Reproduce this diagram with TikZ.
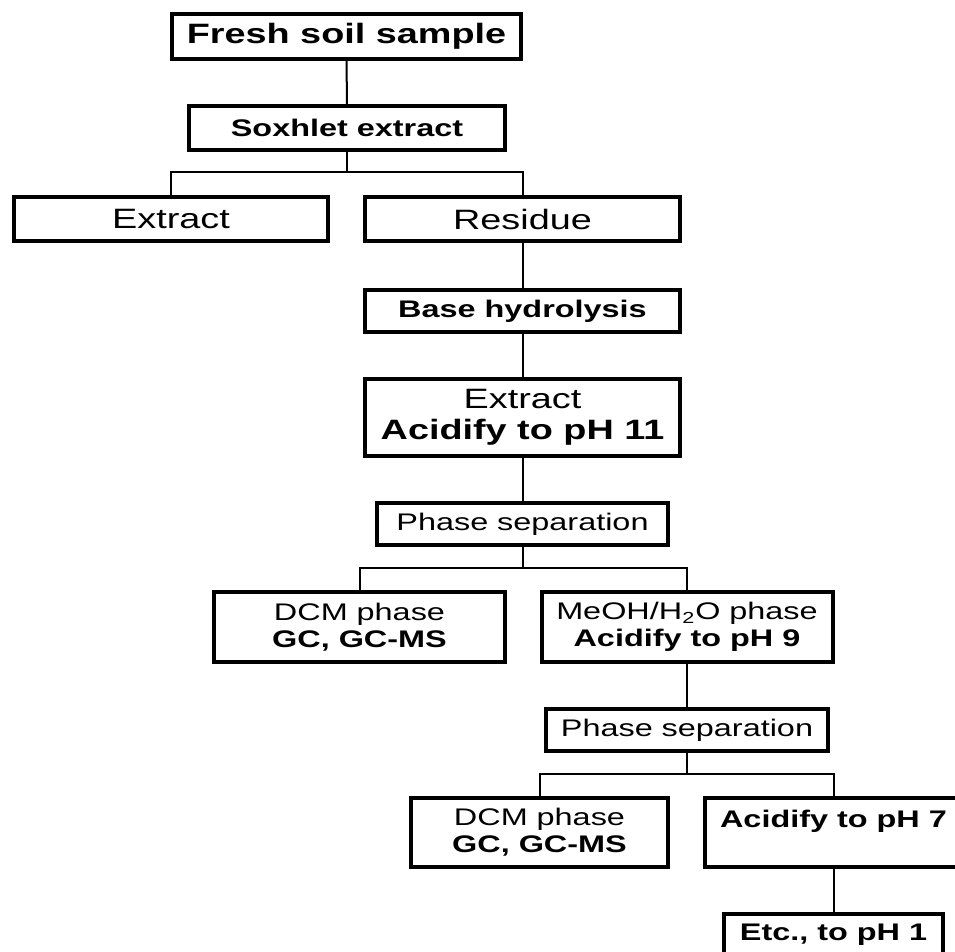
\documentclass[tikz,border=0pt]{standalone}
\usepackage{fontspec}
\setmainfont{Liberation Sans}[FakeStretch=1.35]
\usetikzlibrary{positioning,calc}

\begin{document}
\begin{tikzpicture}[x=0.5pt, y=-0.5pt]

        % Boxes and the thin lines that join them
        \tikzset{
            box/.style={draw, line width=2pt, align=center, inner sep=0pt,
                font=\fontsize{12}{13.5}\selectfont},
            bigbox/.style={box, font=\fontsize{14}{15.5}\selectfont},
            link/.style={line width=1pt},
        }

        % Picture frame, the last boxes run off the page
        \useasboundingbox (0, 0) rectangle (955, 952);
        \clip (0, 0) rectangle (955, 952);

        \node (fresh) at (346.5, 36.5) [bigbox, minimum width=174.5pt, minimum height=22.5pt]
            {\textbf{Fresh soil sample}};
        \node (soxhlet) at (347, 128) [box, minimum width=158pt, minimum height=22pt]
            {\textbf{Soxhlet extract}};
        \node (extract) at (171, 219) [bigbox, minimum width=157pt, minimum height=22pt]
            {Extract};
        \node (residue) at (522.5, 219) [bigbox, minimum width=157.5pt, minimum height=22pt]
            {Residue};
        \node (base) at (522.5, 311) [box, minimum width=157.5pt, minimum height=21pt]
            {\textbf{Base hydrolysis}};
        \node (acid11) at (522.5, 417.5) [bigbox, minimum width=157.5pt, minimum height=38.5pt]
            {Extract\\\textbf{Acidify to pH 11}};
        \node (phase1) at (522.5, 524) [box, minimum width=145.5pt, minimum height=21pt]
            {Phase separation};

        \node (dcm1) at (359.5, 627) [box, minimum width=145.5pt, minimum height=35pt]
            {DCM phase\\\textbf{GC, GC-MS}};
        \node (meoh) at (687, 627) [box, minimum width=145.5pt, minimum height=35pt]
            {MeOH/H\textsubscript{2}O phase\\\textbf{Acidify to pH 9}};
        \node (phase2) at (687, 730) [box, minimum width=141pt, minimum height=21pt]
            {Phase separation};

        \node (dcm2) at (539.5, 832.5) [box, minimum width=128.5pt, minimum height=34.5pt]
            {DCM phase\\\textbf{GC, GC-MS}};
        \node (acid7) at (833.5, 832.5) [box, minimum width=128.5pt, minimum height=34.5pt]
            {\textbf{Acidify to pH 7}\\\mbox{}};
        \node (etc) at (833.5, 935) [box, minimum width=109.5pt, minimum height=21pt]
            {\textbf{Etc., to pH 1}};

        % Branch points
        \coordinate (J1) at (347, 172);
        \coordinate (J2) at (522.5, 568);
        \coordinate (J3) at (687, 774);

        \begin{scope}[link]
            \draw (fresh) -- (soxhlet);
            \draw (soxhlet) -- (J1);
            \draw (J1) -| (extract.north);
            \draw (J1) -| (residue.north);
            \draw (residue) -- (base);
            \draw (base) -- (acid11);
            \draw (acid11) -- (phase1);
            \draw (phase1) -- (J2);
            \draw (J2) -| (dcm1.north);
            \draw (J2) -| (meoh.north);
            \draw (meoh) -- (phase2);
            \draw (phase2) -- (J3);
            \draw (J3) -| (dcm2.north);
            \draw (J3) -| (acid7.north);
            \draw (acid7) -- (etc);
        \end{scope}
        \end{tikzpicture}
\end{document}
